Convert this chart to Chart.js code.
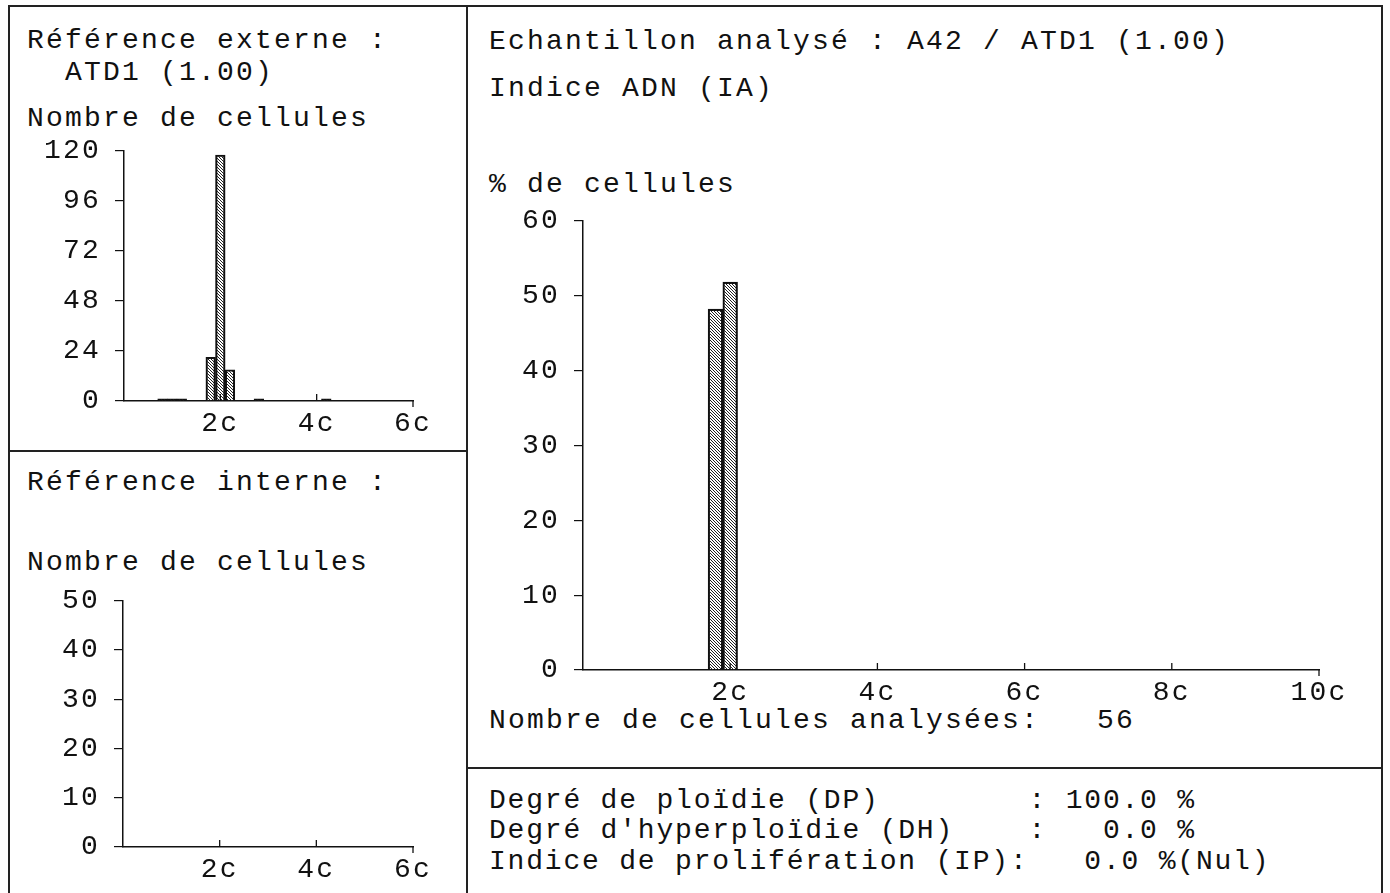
<!DOCTYPE html>
<html>
<head>
<meta charset="utf-8">
<script src="https://cdn.jsdelivr.net/npm/chart.js@4.4.1/dist/chart.umd.min.js"></script>
<style>
  body { margin: 0; width: 1390px; height: 893px; background: #fff; position: relative; overflow: hidden; }
  .t { position: absolute; font-family: 'Liberation Mono', monospace; font-size: 28px; line-height: 26px;
       letter-spacing: 2.2px; white-space: pre; color: #111; }
  .b { letter-spacing: 1.8px; }
  .ln { position: absolute; background: #222; }
  canvas { position: absolute; }
</style>
</head>
<body>
<!-- frame -->
<div class="ln" style="left:8px;top:5px;width:1374px;height:1.5px"></div>
<div class="ln" style="left:8px;top:5px;width:1.5px;height:888px"></div>
<div class="ln" style="left:1381px;top:5px;width:1.5px;height:888px"></div>
<div class="ln" style="left:466px;top:5px;width:1.5px;height:888px"></div>
<div class="ln" style="left:8px;top:450px;width:458px;height:1.5px"></div>
<div class="ln" style="left:466px;top:767px;width:916px;height:1.5px"></div>

<div class="t" style="left:27px;top:28px">Référence externe :</div>
<div class="t" style="left:27px;top:60px">  ATD1 (1.00)</div>
<div class="t" style="left:27px;top:106px">Nombre de cellules</div>
<div class="t" style="left:27px;top:470px">Référence interne :</div>
<div class="t" style="left:27px;top:550px">Nombre de cellules</div>

<div class="t" style="left:489px;top:29px">Echantillon analysé : A42 / ATD1 (1.00)</div>
<div class="t" style="left:489px;top:76px">Indice ADN (IA)</div>
<div class="t" style="left:489px;top:172px">% de cellules</div>
<div class="t" style="left:489px;top:708px">Nombre de cellules analysées:   56</div>

<div class="t b" style="left:489px;top:788px">Degré de ploïdie (DP)        : 100.0 %</div>
<div class="t b" style="left:489px;top:818px">Degré d'hyperploïdie (DH)    :   0.0 %</div>
<div class="t b" style="left:489px;top:849px">Indice de prolifération (IP):   0.0 %(Nul)</div>

<canvas id="extChart" width="450" height="320" style="left:8px;top:120px"></canvas>
<canvas id="intChart" width="450" height="320" style="left:8px;top:570px"></canvas>
<canvas id="sampleChart" width="900" height="520" style="left:470px;top:190px"></canvas>

<script>
// external reference (ATD1): DNA content bins (c) and cell counts
var extBins = [0.8, 1.0, 1.2, 1.8, 2.0, 2.2, 2.8, 4.2];
var extCounts = [1, 1, 1, 21, 118, 15, 1, 1];

// internal reference: no cells
var intBins = [];
var intCounts = [];

// analysed sample A42: % of cells per bin (56 cells)
var sampleBins = [1.8, 2.0];
var samplePct = [48.2, 51.8];

var ink = '#111';
var tickFont = { family: 'Liberation Mono', size: 28 };

function hatch() {
    var c = document.createElement('canvas');
    c.width = 3; c.height = 3;
    var g = c.getContext('2d');
    g.strokeStyle = '#222';
    g.lineWidth = 1;
    g.beginPath();
    g.moveTo(-1, -1); g.lineTo(4, 4);
    g.moveTo(-1, 2); g.lineTo(1, 4);
    g.moveTo(2, -1); g.lineTo(4, 1);
    g.stroke();
    return g.createPattern(c, 'repeat');
}

var spacing = {
    id: 'spacing',
    beforeLayout: function(chart) { chart.ctx.letterSpacing = '2.2px'; },
    beforeDraw: function(chart) { chart.ctx.letterSpacing = '2.2px'; }
};

// x ticks point up into the plot, the end of the axis hooks down
var innerTicks = {
    id: 'innerTicks',
    afterDatasetsDraw: function(chart) {
        var xs = chart.scales.x, ctx = chart.ctx, y0 = chart.chartArea.bottom;
        ctx.save();
        ctx.strokeStyle = ink;
        ctx.lineWidth = 1.3;
        xs.ticks.forEach(function(t) {
            if (t.value === 0) return;
            var px = xs.getPixelForValue(t.value);
            ctx.beginPath();
            ctx.moveTo(px, y0);
            ctx.lineTo(px, t.value === xs.max ? y0 + 6 : y0 - 7);
            ctx.stroke();
        });
        ctx.restore();
    }
};

function drawHist(id, bins, values, xMax, yMax, yStep, yWidth, xHeight, padTop, padRight) {
    var points = bins.map(function(b, i) { return { x: b, y: values[i] }; });
    var ctx = document.getElementById(id).getContext('2d');
    return new Chart(ctx, {
        type: 'bar',
        data: {
            datasets: [{
                data: points,
                backgroundColor: hatch(),
                borderColor: ink,
                borderWidth: 1.5,
                barPercentage: 1,
                categoryPercentage: 1
            }]
        },
        options: {
            responsive: false,
            animation: false,
            layout: { padding: { top: padTop, right: padRight, left: 0, bottom: 0 } },
            plugins: { legend: { display: false }, tooltip: { enabled: false } },
            scales: {
                x: {
                    type: 'linear',
                    min: 0,
                    max: xMax,
                    offset: false,
                    grid: { offset: false, drawOnChartArea: false, drawTicks: false },
                    border: { display: true, color: ink, width: 1.5 },
                    ticks: {
                        stepSize: 2,
                        autoSkip: false,
                        maxRotation: 0,
                        padding: 6,
                        color: ink,
                        font: tickFont,
                        callback: function(v) { return v === 0 ? '' : v + 'c'; }
                    },
                    afterFit: function(s) { s.height = xHeight; }
                },
                y: {
                    min: 0,
                    max: yMax,
                    grid: { drawOnChartArea: false, drawTicks: true, tickLength: 9, color: ink, lineWidth: 1.2 },
                    border: { display: true, color: ink, width: 1.5 },
                    ticks: { stepSize: yStep, padding: 14, color: ink, font: tickFont },
                    afterFit: function(s) { s.width = yWidth; }
                }
            }
        },
        plugins: [spacing, innerTicks]
    });
}

drawHist('extChart', extBins, extCounts, 6, 120, 24, 116, 39, 30, 45);
drawHist('intChart', intBins, intCounts, 6, 50, 10, 115, 43, 26, 45);
drawHist('sampleChart', sampleBins, samplePct, 10, 60, 10, 113, 40, 26, 51);
</script>
</body>
</html>
